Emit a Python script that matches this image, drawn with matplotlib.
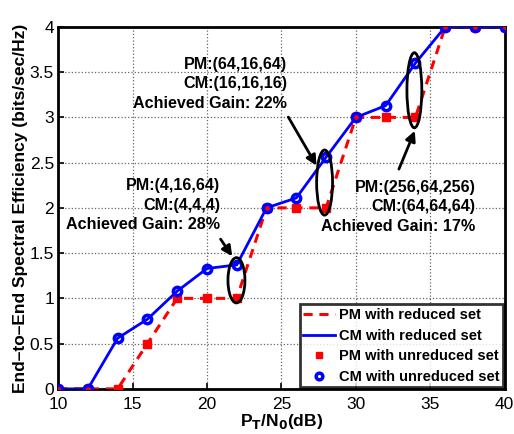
import matplotlib
matplotlib.use("Agg")
import matplotlib.pyplot as plt
from matplotlib.patches import Ellipse

plt.rcParams['font.family'] = ['Liberation Sans', 'DejaVu Sans']

snr = [10, 12, 14, 16, 18, 20, 22, 24, 26, 28, 30, 32, 34, 36, 38, 40]
pm_se = [0, 0, 0, 0.5, 1, 1, 1, 2, 2, 2, 3, 3, 3, 4, 4, 4]
cm_se = [0, 0, 0.56, 0.77, 1.08, 1.33, 1.37, 2, 2.11, 2.56, 3, 3.13, 3.6, 4, 4, 4]

legend_labels = ["PM with reduced set", "CM with reduced set",
                 "PM with unreduced set", "CM with unreduced set"]

annotations = [
    ("PM:(4,16,64)\nCM:(4,4,4)\nAchieved Gain: 28%"),
    ("PM:(64,16,64)\nCM:(16,16,16)\nAchieved Gain: 22%"),
    ("PM:(256,64,256)\nCM:(64,64,64)\nAchieved Gain: 17%"),
]

fig = plt.figure(figsize=(5.14, 4.34), dpi=100)
ax = fig.add_axes([0.113, 0.104, 0.869, 0.834])

l1, = ax.plot(snr, pm_se, '--', color='red', lw=2.2, dashes=(3, 2.2), zorder=3)
l2, = ax.plot(snr, cm_se, '-', color='blue', lw=2.0, zorder=3)
l3, = ax.plot(snr, pm_se, 's', color='red', ms=6, mfc='red', mec='red', ls='none', zorder=4)
l4, = ax.plot(snr, cm_se, 'o', color='blue', ms=6, mfc='none', mec='blue', mew=2.5, ls='none', zorder=5)

ax.set_xlim(10, 40)
ax.set_ylim(0, 4)
ax.set_xticks([10, 15, 20, 25, 30, 35, 40])
ax.set_yticks([0, 0.5, 1, 1.5, 2, 2.5, 3, 3.5, 4])
ax.set_yticklabels(['0', '0.5', '1', '1.5', '2', '2.5', '3', '3.5', '4'])
ax.grid(True, ls=':', color='0.4', lw=0.9)
ax.tick_params(direction='in', labelsize=12.5, length=4, width=1.2)
ax.tick_params(axis='y', pad=3)
ax.tick_params(axis='x', pad=5.5)
for s in ax.spines.values():
    s.set_linewidth(2)

ax.set_xlabel(r'P$_\mathbf{T}$/N$_\mathbf{0}$(dB)', fontsize=12.5, fontweight='bold', labelpad=0.5)
ax.set_ylabel('End\u2013to\u2013End Spectral Efficiency (bits/sec/Hz)', fontsize=12.5,
              fontweight='bold', labelpad=1)

# ellipses
for (cx, cy, w, h) in [(21.98, 1.2, 1.14, 0.5), (27.9, 2.28, 1.07, 0.72), (33.93, 3.3, 1.0, 0.83)]:
    ax.add_patch(Ellipse((cx, cy), w, h, fill=False, ec='black', lw=2, zorder=6))

tkw = dict(fontsize=11.6, fontweight='bold', ha='right', va='center',
           linespacing=1.35, zorder=7)
ax.text(20.87, 2.03, annotations[0], **tkw)
ax.text(25.37, 3.37, annotations[1], **tkw)
ax.text(38.05, 2.01, annotations[2], **tkw)

akw = dict(arrowstyle='-|>', color='black', lw=2, mutation_scale=15)
ax.annotate('', xy=(21.8, 1.44), xytext=(20.81, 1.68), arrowprops=akw)
ax.annotate('', xy=(27.45, 2.44), xytext=(25.37, 3.03), arrowprops=akw)
ax.annotate('', xy=(34.03, 2.88), xytext=(32.82, 2.40), arrowprops=akw)

leg = ax.legend([l1, l2, l3, l4], legend_labels, loc='lower right',
                prop={'weight': 'bold', 'size': 10.5}, frameon=True, fancybox=False,
                borderaxespad=0.1, handlelength=2.2, handletextpad=0.25,
                labelspacing=0.45, borderpad=0.25, markerscale=0.8)
leg.get_frame().set_edgecolor('black')
leg.get_frame().set_linewidth(2)
leg.set_zorder(10)

fig.savefig('out.png', dpi=100)
